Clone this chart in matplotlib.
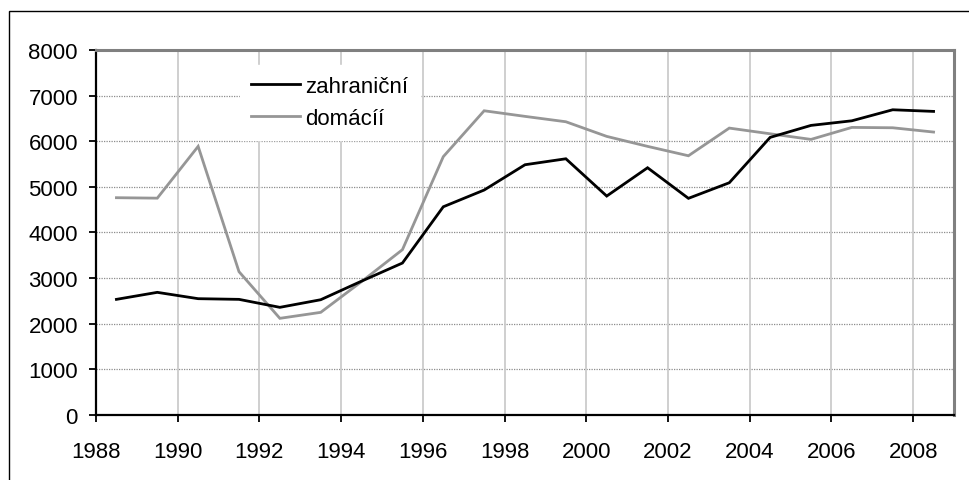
import matplotlib
matplotlib.use("Agg")
import matplotlib.pyplot as plt
from matplotlib.patches import Rectangle

plt.rcParams['font.family'] = ['Liberation Sans', 'DejaVu Sans']

years = list(range(1988, 2009))
zahranicni = [2530, 2684, 2545, 2530, 2355, 2522, 2930, 3327, 4561, 4928,
              5483, 5614, 4796, 5417, 4746, 5088, 6083, 6346, 6447, 6689, 6653]
domaci = [4760, 4750, 5886, 3137, 2114, 2245, 2920, 3620, 5660, 6667,
          6544, 6426, 6105, 5886, 5680, 6287, 6162, 6039, 6302, 6294, 6200]
labels = ["zahraniční", "domácíí"]
xticks = list(range(1988, 2009, 2))
yticks = list(range(0, 8001, 1000))

fig = plt.figure(figsize=(9.7, 4.81), dpi=100)
W, H = 970, 481
ax = fig.add_axes([96 / W, 1 - 415.7 / H, (954 - 96) / W, (415.7 - 51) / H])

# outer chart border (cropped at right/bottom)
fig.patches.append(Rectangle((9 / W, -0.1), 1.2, (H - 12) / H + 0.1,
                             transform=fig.transFigure, fill=False,
                             edgecolor='black', linewidth=1.0))

xs = [y + 0.5 for y in years]
ax.plot(xs, zahranicni, color='black', linewidth=2.0, label=labels[0],
        solid_joinstyle='miter', zorder=4)
ax.plot(xs, domaci, color='#969696', linewidth=2.0, label=labels[1],
        solid_joinstyle='miter', zorder=3)

ax.set_xlim(1988, 2009)
ax.set_ylim(0, 8000)
ax.set_xticks(xticks)
ax.set_yticks(yticks)
ax.tick_params(axis='both', labelsize=16, direction='out', length=5,
               width=1.3, color='black')
ax.tick_params(axis='x', pad=14)
ax.tick_params(axis='y', pad=8)

for v in yticks[1:-1]:
    ax.axhline(v, color='#8c8c8c', linewidth=0.9, linestyle=(0, (1, 1)), zorder=1)
for v in xticks[1:]:
    ax.axvline(v, color='#cccccc', linewidth=1.3, zorder=1)

for s in ['left', 'bottom']:
    ax.spines[s].set_color('black')
    ax.spines[s].set_linewidth(1.6)
for s in ['top', 'right']:
    ax.spines[s].set_color('#808080')
    ax.spines[s].set_linewidth(2.2)

leg = ax.legend(loc='upper left', bbox_to_anchor=((240 - 96) / (954 - 96), 1 - (66 - 51) / (415.7 - 51)),
                frameon=True, fontsize=16, handlelength=2.2, handletextpad=0.25,
                borderaxespad=0, borderpad=0.5, labelspacing=0.5,
                fancybox=False)
leg.get_frame().set_edgecolor('white')
leg.get_frame().set_facecolor('white')
leg.get_frame().set_alpha(1)
leg.set_zorder(5)

fig.savefig('out.png', dpi=100)
